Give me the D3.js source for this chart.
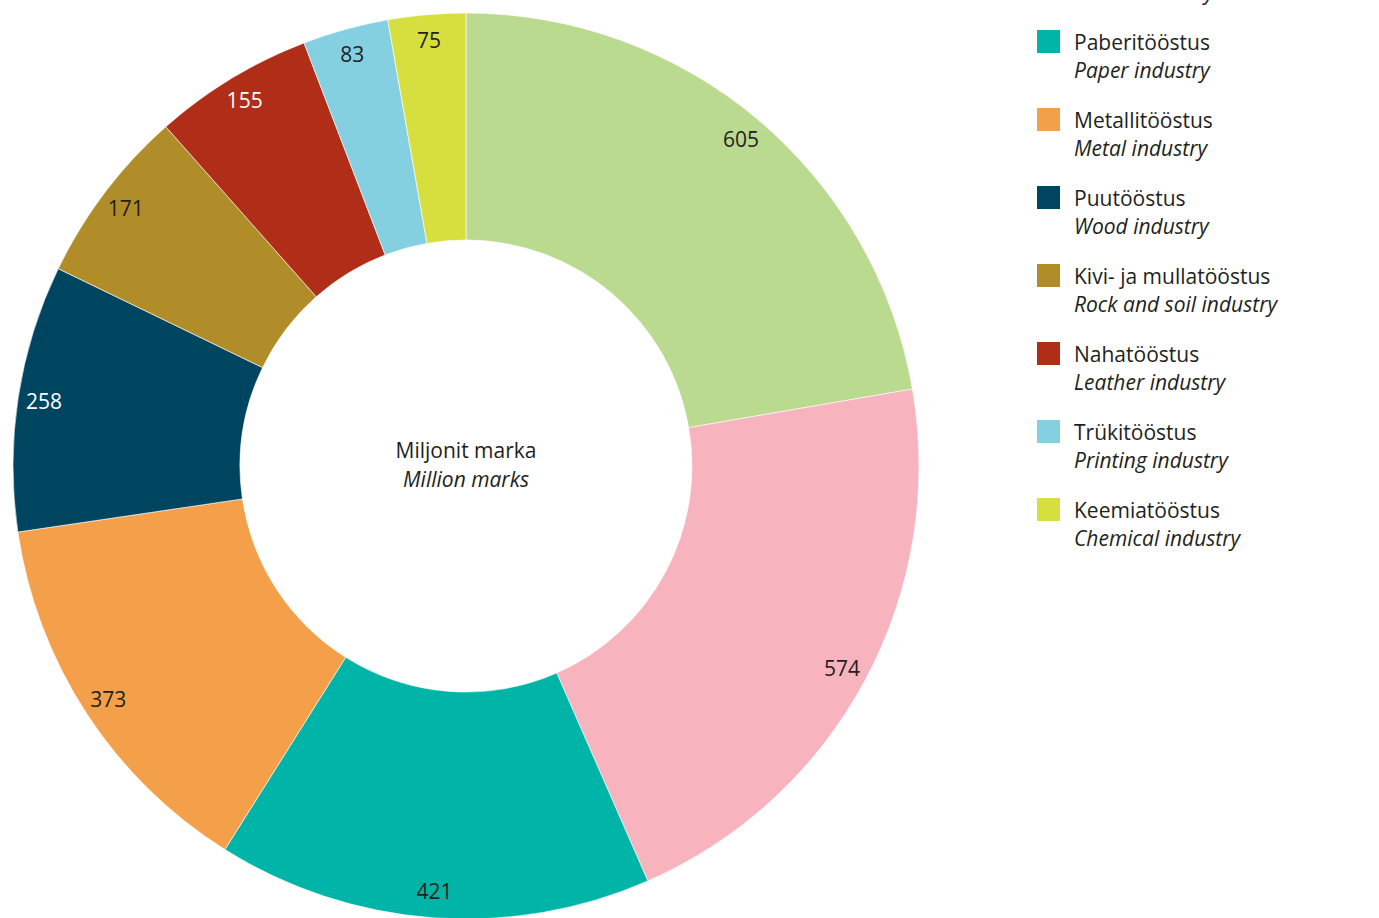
<!DOCTYPE html>
<html><head><meta charset="utf-8">
<script src="https://cdn.jsdelivr.net/npm/d3@7/dist/d3.min.js"></script>
<style>
html,body{margin:0;padding:0;background:#fff;overflow:hidden;}
svg{display:block;font-family:"Open Sans",sans-serif;}
</style></head>
<body><svg id="c" width="1379" height="918"></svg>
<script>
const categoriesEt = ["Toiduainetetööstus","Tekstiilitööstus","Paberitööstus","Metallitööstus","Puutööstus","Kivi- ja mullatööstus","Nahatööstus","Trükitööstus","Keemiatööstus"];
const categoriesEn = ["Food industry","Textile industry","Paper industry","Metal industry","Wood industry","Rock and soil industry","Leather industry","Printing industry","Chemical industry"];
const values = [605,574,421,373,258,171,155,83,75];
const colors = ["#b9da8f","#f7b4bf","#00b5a7","#f4a04a","#004560","#b08d28","#b02d17","#85d0e0","#d7df3e"];
const labelColors = ["#231f20","#231f20","#231f20","#231f20","#ffffff","#231f20","#ffffff","#231f20","#231f20"];
const centerTitle = ["Miljonit marka","Million marks"];

const svg = d3.select("#c");
const cx = 466, cy = 466, R = 453, r0 = 226;
const data = values.map((v,i)=>({v, i}));
const pie = d3.pie().value(d=>d.v).sort(null);
const arc = d3.arc().innerRadius(r0).outerRadius(R);
const labelArc = d3.arc().innerRadius(427).outerRadius(427);
const g = svg.append("g").attr("transform",`translate(${cx},${cy})`);
const arcs = pie(data);
g.selectAll("path").data(arcs).join("path")
  .attr("d", arc).attr("fill", d=>colors[d.data.i])
  .attr("stroke","#fff").attr("stroke-width",0.6);
g.selectAll("text.val").data(arcs).join("text").attr("class","val")
  .attr("transform", d=>`translate(${labelArc.centroid(d)})`)
  .attr("text-anchor","middle").attr("dy","0.36em")
  .attr("font-size",21).attr("fill",d=>labelColors[d.data.i])
  .text(d=>d.data.v);
g.append("text").attr("text-anchor","middle").attr("y",-8).attr("font-size",21).attr("fill","#231f20").text(centerTitle[0]);
g.append("text").attr("text-anchor","middle").attr("y",21).attr("font-size",21).attr("font-style","italic").attr("fill","#231f20").text(centerTitle[1]);

const ly = d3.scaleLinear().domain([0,1]).range([-126,-48]);
const lg = svg.append("g");
const items = lg.selectAll("g").data(categoriesEt).join("g")
  .attr("transform",(d,i)=>`translate(1037,${ly(i)})`);
items.append("rect").attr("width",23).attr("height",23).attr("fill",(d,i)=>colors[i]);
items.append("text").attr("x",37).attr("y",20).attr("font-size",21).attr("fill","#231f20").text(d=>d);
items.append("text").attr("x",37).attr("y",48).attr("font-size",21).attr("font-style","italic").attr("fill","#231f20").text((d,i)=>categoriesEn[i]);
</script></body></html>
